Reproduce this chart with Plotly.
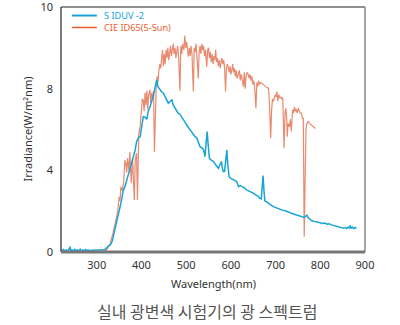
import plotly.graph_objects as go

# ---- data ----
blue_wl = [220,223,226,229,232,235,238,240,242,245,248,251,254,257,260,263,266,269,272,275,278,281,285,290,296,305,312,318,322,326,330,334,337,341,345,349,352,356,359,363,367,371,375,378,382,386,389,393,397,401,404,408,412,415,419,423,426,430,434,437,441,445,449,453,456,460,464,468,471,475,478,482,486,490,494,498,502,505,509,513,517,520,524,527,531,535,538,540,542,544,547,549,552,556,561,565,569,572,575,579,581,583,586,589,591,593,596,600,605,609,613,617,621,625,630,635,640,645,650,655,660,665,668,670,672,674,676,679,685,690,695,700,705,710,715,720,725,730,735,740,747,752,757,762,766,770,773,777,781,786,790,795,800,805,810,815,820,825,830,835,840,845,848,852,856,859,862,865,867,869,872,875,878,881]
blue_val = [0.05,0.08,0.12,0.04,0.1,0.06,0.12,0.26,0.08,0.1,0.05,0.13,0.07,0.1,0.05,0.14,0.06,0.1,0.05,0.12,0.08,0.1,0.06,0.08,0.1,0.1,0.1,0.12,0.2,0.3,0.34,0.5,0.75,1.1,1.57,1.9,2.2,2.6,3.0,3.2,3.5,3.86,4.1,4.35,4.7,5.0,5.4,5.6,5.65,6.2,6.63,6.6,6.5,6.9,7.1,7.4,7.6,8.0,8.43,8.1,7.94,7.85,7.78,7.6,7.5,7.29,7.37,7.45,7.2,7.05,6.95,6.8,6.75,6.6,6.47,6.35,6.2,6.1,5.98,5.85,5.75,5.65,5.57,5.35,5.16,5.1,5.05,4.9,4.67,5.2,5.9,5.3,4.59,4.5,4.43,4.3,4.2,4.1,4.25,4.43,4.1,3.94,3.95,4.6,5.0,4.3,3.69,3.6,3.53,3.5,3.45,3.2,3.25,3.2,3.15,3.04,3.0,2.95,2.88,2.8,2.75,2.63,2.6,3.2,3.74,3.0,2.5,2.47,2.35,2.3,2.22,2.17,2.12,2.1,2.05,2.03,2.0,1.95,1.9,1.85,1.81,1.78,1.75,1.7,1.72,1.8,1.68,1.6,1.53,1.5,1.47,1.45,1.43,1.4,1.42,1.36,1.38,1.33,1.3,1.28,1.25,1.22,1.18,1.16,1.2,1.15,1.22,1.18,1.3,1.15,1.22,1.14,1.2,1.16]

orange_wl = [300,315,322,330,336,341,345,347,350,352,354,357,360,363,365,367,369,372,374,377,380,382,384,386,389,391,394,397,400,402,404,406,408,410,412,414,416,419,421,423,425,427,429,431,433,435,437,439,441,443,445,447,449,451,453,455,457,459,461,463,465,467,469,471,473,475,477,479,481,483,486,488,490,492,495,497,499,501,503,505,507,509,511,513,516,518,520,522,524,527,529,531,533,535,537,539,541,543,546,548,550,552,554,556,558,560,562,564,566,568,570,572,574,576,578,580,582,584,586,588,590,592,594,596,598,600,602,604,606,608,610,612,614,617,619,621,623,625,628,630,632,634,636,639,641,643,645,647,649,651,653,656,658,660,662,664,666,669,672,675,678,681,684,686,689,691,693,695,697,699,701,703,705,707,710,712,714,716,719,721,723,725,726,728,731,733,735,738,740,742,744,746,748,751,753,755,758,760,762,764,766,768,770,773,776,779,782,786,789]
orange_val = [0,0,0.1,0.42,0.9,1.4,1.8,2.0,2.7,2.5,3.2,3.0,3.4,4.5,4.35,3.9,4.6,4.0,4.9,3.37,4.6,3.8,2.55,4.5,4.84,2.55,5.8,6.14,6.8,7.5,7.45,6.9,7.8,7.2,7.9,7.0,7.7,7.94,7.3,7.8,7.5,7.9,4.9,7.6,8.1,8.6,8.3,8.9,9.2,9.0,9.4,9.9,9.1,9.7,9.2,9.9,9.5,10.0,9.4,9.8,10.1,9.6,9.9,10.2,9.7,10.0,9.5,9.9,10.1,9.6,7.9,10.1,9.7,10.2,9.9,10.6,10.0,10.3,9.8,9.57,10.0,9.6,10.1,9.7,7.86,10.0,9.8,10.2,9.6,8.5,9.8,10.1,9.7,10.2,9.9,10.1,9.6,9.9,9.08,9.9,10.0,9.5,9.8,9.3,9.7,9.2,9.6,9.4,9.9,9.3,9.5,9.1,9.4,9.0,9.3,9.5,9.2,9.4,9.0,7.86,9.0,9.2,9.08,8.8,9.1,8.7,8.9,9.2,8.8,9.0,8.6,8.9,8.5,8.68,8.9,8.4,8.7,8.5,8.1,8.8,8.0,8.6,8.8,8.68,8.5,8.7,8.4,8.6,8.2,8.4,8.1,7.04,8.3,8.1,8.4,8.2,8.3,8.27,8.2,8.15,8.1,8.05,8.02,7.4,5.57,6.9,7.5,7.37,7.5,7.7,7.6,7.86,7.4,7.7,7.53,7.6,7.5,7.55,5.08,6.8,7.04,6.5,5.65,6.3,6.14,6.5,5.9,6.96,6.8,7.1,6.9,7.0,6.8,7.04,6.9,6.8,6.8,6.55,6.55,0.75,3.5,6.0,6.3,6.39,6.3,6.25,6.2,6.14,6.05]

x_ticks = [300, 400, 500, 600, 700, 800, 900]
y_tickvals = [0, 4, 8, 12]
y_ticktext = ["0", "4", "8", "10"]

series_names = ["S IDUV -2", "CIE ID65(5-Sun)"]
line_colors = ["#16a4d6", "#e98a6f"]
legend_colors = ["#1ba3d8", "#ec5e2e"]

title_text = "실내 광변색 시험기의 광 스펙트럼"
x_title = "Wavelength(nm)"
y_title = "Irradiance(W/m²nm)"

FONT = "Noto Sans, Noto Sans CJK KR, sans-serif"

fig = go.Figure()
fig.add_trace(go.Scatter(x=orange_wl, y=orange_val, mode="lines",
                         line=dict(color=line_colors[1], width=1.2),
                         name=series_names[1], showlegend=False))
fig.add_trace(go.Scatter(x=blue_wl, y=blue_val, mode="lines",
                         line=dict(color=line_colors[0], width=1.5),
                         name=series_names[0], showlegend=False))

fig.update_layout(
    width=400, height=325,
    margin=dict(l=61, r=35, t=7, b=73, autoexpand=False),
    paper_bgcolor="white", plot_bgcolor="white",
    font=dict(family=FONT, size=11, color="#333"),
    showlegend=False,
)
fig.update_xaxes(range=[220, 900], tickvals=x_ticks, showgrid=False, zeroline=False,
                 showline=False, ticks="", ticklabelstandoff=5, automargin=False,
                 tickfont=dict(size=11, color="#333"))
fig.update_yaxes(range=[0, 12.001], tickvals=y_tickvals, ticktext=y_ticktext,
                 showgrid=False, zeroline=False, showline=False, ticks="",
                 ticklabelstandoff=7, ticklabeloverflow="allow", automargin=False,
                 tickfont=dict(size=11, color="#333"))

# frame
fig.add_shape(type="line", xref="paper", yref="paper", x0=0, x1=0, y0=0, y1=1,
              line=dict(color="#222", width=1.2))
fig.add_shape(type="line", xref="paper", yref="paper", x0=0, x1=1, y0=1, y1=1,
              line=dict(color="#222", width=1.2))
fig.add_shape(type="line", xref="paper", yref="paper", x0=1, x1=1, y0=0, y1=1,
              line=dict(color="#888", width=1.5))
fig.add_shape(type="line", xref="paper", yref="paper", x0=0, x1=1, y0=0, y1=0,
              line=dict(color="#777", width=3))

# legend (manual): sample lines + one two-line text block
leg_y_px = [15.5, 27.5]
for col, ypx in zip(legend_colors, leg_y_px):
    yy = (252 - ypx) / 245
    fig.add_shape(type="line", xref="paper", yref="paper", x0=0.036, x1=0.118,
                  y0=yy, y1=yy, line=dict(color=col, width=2 if col == legend_colors[0] else 1.5))
legend_text = "<br>".join(
    f"<span style='color:{c}'>{n}</span>" for n, c in zip(series_names, legend_colors))
fig.add_annotation(xref="paper", yref="paper", x=0.137,
                   y=(252 - sum(leg_y_px) / 2) / 245, text=legend_text,
                   showarrow=False, xanchor="left", yanchor="middle", align="left",
                   borderpad=0, font=dict(size=9.2, color=legend_colors[0]))

# axis titles
fig.add_annotation(xref="paper", yref="paper", x=0.5, y=(252 - 283) / 245,
                   text=x_title, showarrow=False, xanchor="center", yanchor="middle",
                   font=dict(size=11, color="#333"))
fig.add_annotation(xref="paper", yref="paper", x=(27 - 61) / 304, y=0.5,
                   text=y_title, showarrow=False, textangle=-90,
                   xanchor="center", yanchor="middle",
                   font=dict(size=11, color="#333"))
# title below chart
fig.add_annotation(xref="paper", yref="paper", x=(207 - 61) / 304, y=(252 - 311) / 245,
                   text=title_text, showarrow=False, xanchor="center", yanchor="middle",
                   font=dict(size=16, color="#555", family="Noto Sans CJK KR"))

fig.write_html("out.html")
